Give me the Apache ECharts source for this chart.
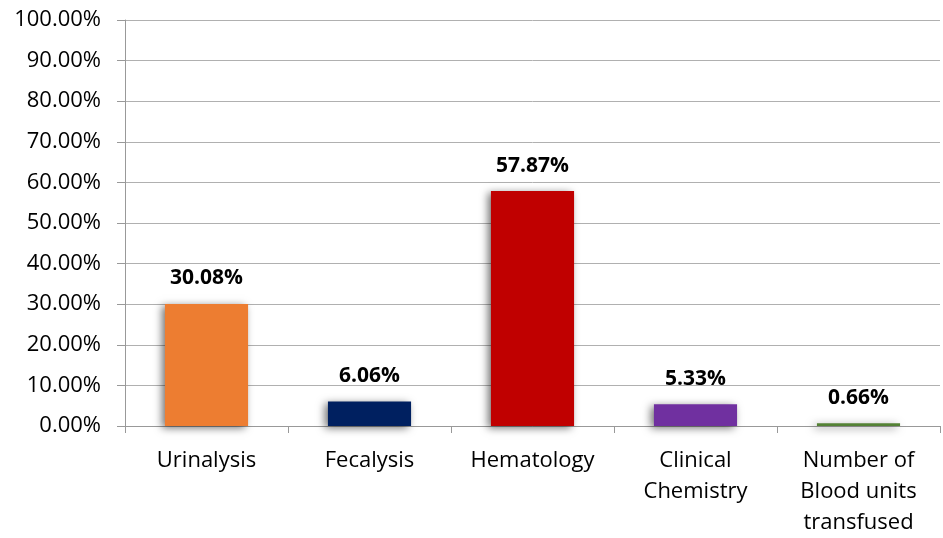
<!DOCTYPE html>
<html>
<head>
<meta charset="utf-8">
<script src="https://cdn.jsdelivr.net/npm/echarts@6/dist/echarts.min.js"></script>
<style>
  html, body { margin: 0; padding: 0; background: #fff; }
  #chart { width: 943px; height: 538px; }
</style>
</head>
<body>
<div id="chart"></div>
<script>
const categories = ["Urinalysis", "Fecalysis", "Hematology", "Clinical\nChemistry", "Number of\nBlood units\ntransfused"];
const values = [30.08, 6.06, 57.87, 5.33, 0.66];
const barColors = ["#ED7D31", "#002060", "#C00000", "#7030A0", "#548235"];

const chart = echarts.init(document.getElementById("chart"));

const options = {
  animation: false,
  textStyle: { fontFamily: "Open Sans, Liberation Sans, sans-serif" },
  grid: { left: 125, right: 3, top: 20, bottom: 112, outerBoundsMode: "none" },
  xAxis: {
    type: "category",
    data: categories,
    axisLine: { lineStyle: { color: "#999", width: 1 } },
    // 刻度在分类边界
    axisTick: { show: true, alignWithLabel: false, length: 7, lineStyle: { color: "#999" } },
    axisLabel: { color: "#000", fontSize: 22, margin: 19, lineHeight: 31, interval: 0 },
  },
  yAxis: {
    type: "value",
    min: 0,
    max: 100,
    interval: 10,
    axisLine: { show: true, lineStyle: { color: "#999" } },
    axisTick: { show: true, length: 8, lineStyle: { color: "#999" } },
    splitLine: { lineStyle: { color: "#b0b0b0" } },
    axisLabel: {
      color: "#000",
      fontSize: 22,
      margin: 24,
      formatter: (v) => v.toFixed(2) + "%",
    },
  },
  series: [
    {
      type: "bar",
      barWidth: "51%",
      data: values.map((v, i) => ({
        value: v,
        itemStyle: { color: barColors[i] },
      })),
      itemStyle: {
        shadowColor: "rgba(0, 0, 0, 0.55)",
        shadowBlur: 8,
        shadowOffsetX: -3,
        shadowOffsetY: 2,
      },
      label: {
        show: true,
        position: "top",
        distance: 15,
        color: "#000",
        fontSize: 21,
        fontWeight: "bold",
        formatter: (p) => p.value.toFixed(2) + "%",
      },
    },
  ],
};

chart.setOption(options);
</script>
</body>
</html>
